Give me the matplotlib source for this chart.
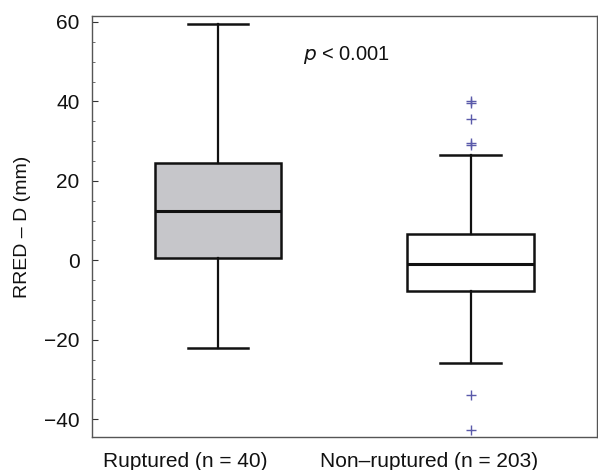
import matplotlib
matplotlib.use("Agg")
import matplotlib.pyplot as plt
from matplotlib.ticker import MultipleLocator
from matplotlib.transforms import ScaledTranslation

plt.rcParams['font.family'] = ['Liberation Sans', 'DejaVu Sans']

categories = ["Ruptured (n = 40)", "Non\u2013ruptured (n = 203)"]
whislo = [-22.0, -25.8]
q1 = [0.5, -7.8]
med = [12.5, -1.0]
q3 = [24.5, 6.7]
whishi = [59.5, 26.5]
fliers = [[], [40.1, 39.6, 35.6, 29.5, 29.1, -34.0, -42.7]]
box_colors = ["#c6c6ca", "#ffffff"]

stats = []
for i, lab in enumerate(categories):
    stats.append(dict(label=lab, whislo=whislo[i], q1=q1[i], med=med[i],
                      q3=q3[i], whishi=whishi[i], fliers=fliers[i]))

fig = plt.figure(figsize=(5.98, 4.70), dpi=100)
ax = fig.add_axes([0.1538, 0.0702, 0.8442, 0.8958])

bp = ax.bxp(stats, positions=[1, 2], widths=0.5, patch_artist=True,
            capwidths=0.24,
            boxprops=dict(linewidth=1.8, edgecolor='#111111'),
            whiskerprops=dict(linewidth=1.6, color='#111111'),
            capprops=dict(linewidth=1.8, color='#111111'),
            medianprops=dict(linewidth=2.2, color='#111111'),
            flierprops=dict(marker='+', markersize=6.5, markeredgecolor='#5a5aaa',
                            markeredgewidth=1.0, linestyle='none'))
for patch, c in zip(bp['boxes'], box_colors):
    patch.set_facecolor(c)

ax.set_xlim(0.5, 2.5)
ax.set_ylim(-44.5, 61.5)
ax.yaxis.set_major_locator(MultipleLocator(20))
ax.yaxis.set_minor_locator(MultipleLocator(5))
ax.tick_params(axis='y', which='major', direction='in', length=4, width=0.8,
               labelsize=15, colors='#333333', labelcolor='#111111', pad=9)
ax.tick_params(axis='y', which='minor', direction='in', length=2, width=0.6,
               colors='#555555')
ax.tick_params(axis='x', which='both', length=0, labelsize=15, pad=11,
               labelcolor='#111111')
for s in ax.spines.values():
    s.set_color('#555555')
    s.set_linewidth(1.0)

# labels in the reference sit left of the box centres
offsets_px = [-33, -42]
for lbl, dx in zip(ax.get_xticklabels(), offsets_px):
    lbl.set_transform(lbl.get_transform() + ScaledTranslation(dx / 100, 0, fig.dpi_scale_trans))

ax.set_ylabel("RRED \u2013 D (mm)", fontsize=14, color='#111111', labelpad=9)
ax.text(1.335, 51.7, r"$p$ < 0.001", fontsize=14.5, va='center', ha='left',
        color='#111111')

fig.savefig("out.png", dpi=100)
